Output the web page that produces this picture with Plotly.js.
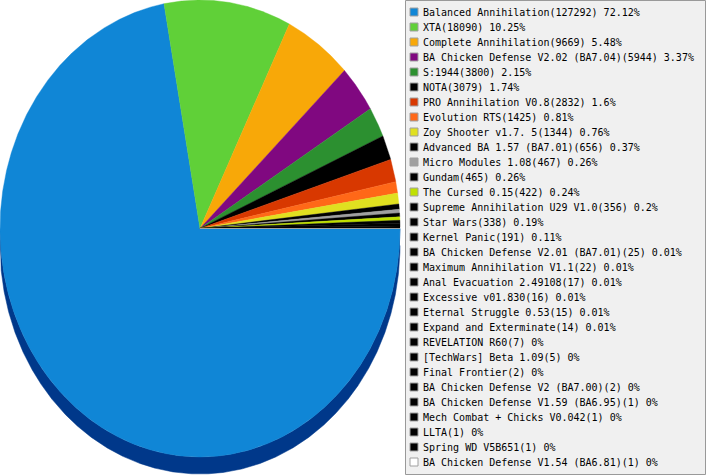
<!DOCTYPE html>
<html>
<head>
<meta charset="utf-8">
<script src="https://cdn.plot.ly/plotly-3.0.1.min.js"></script>
<style>html,body{margin:0;padding:0;background:#fff;}#chart{width:707px;height:475px;}</style>
</head>
<body>
<div id="chart"></div>
<script>
const categories = [
  "Balanced Annihilation", "XTA", "Complete Annihilation", "BA Chicken Defense V2.02 (BA7.04)",
  "S:1944", "NOTA", "PRO Annihilation V0.8", "Evolution RTS", "Zoy Shooter v1.7. 5",
  "Advanced BA 1.57 (BA7.01)", "Micro Modules 1.08", "Gundam", "The Cursed 0.15",
  "Supreme Annihilation U29 V1.0", "Star Wars", "Kernel Panic", "BA Chicken Defense V2.01 (BA7.01)",
  "Maximum Annihilation V1.1", "Anal Evacuation 2.49108", "Excessive v01.830", "Eternal Struggle 0.53",
  "Expand and Exterminate", "REVELATION R60", "[TechWars] Beta 1.09", "Final Frontier",
  "BA Chicken Defense V2 (BA7.00)", "BA Chicken Defense V1.59 (BA6.95)", "Mech Combat + Chicks V0.042",
  "LLTA", "Spring WD V5B651", "BA Chicken Defense V1.54 (BA6.81)"
];
const counts = [
  127292, 18090, 9669, 5944, 3800, 3079, 2832, 1425, 1344, 656, 467, 465, 422,
  356, 338, 191, 25, 22, 17, 16, 15, 14, 7, 5, 2, 2, 1, 1, 1, 1, 1
];
const pctLabels = [
  "72.12", "10.25", "5.48", "3.37", "2.15", "1.74", "1.6", "0.81", "0.76", "0.37", "0.26", "0.26", "0.24",
  "0.2", "0.19", "0.11", "0.01", "0.01", "0.01", "0.01", "0.01", "0.01", "0", "0", "0", "0", "0", "0", "0", "0", "0"
];
const colors = [
  "#1086d6", "#60d038", "#f8a808", "#800880", "#2c9030", "#000000", "#d83800", "#ff6818", "#e0e020",
  "#000000", "#a0a0a0", "#000000", "#c0e000",
  "#000000", "#000000", "#000000", "#000000", "#000000", "#000000", "#000000", "#000000", "#000000",
  "#000000", "#000000", "#000000", "#000000", "#000000", "#000000", "#000000", "#000000", "#ffffff"
];
const sideColors = {0: "#00388a"};

// geometry (pixels)
const W = 707, H = 475;
const cx = 200, cy = 228.5, rx = 200, ry = 228.5, depth = 17;

const total = counts.reduce((a, b) => a + b, 0);
const traces = [];

function arc(a0, a1, dy) {
  const xs = [], ys = [];
  const n = Math.max(2, Math.ceil((a1 - a0) / (Math.PI / 720)));
  for (let k = 0; k <= n; k++) {
    const t = a0 + (a1 - a0) * k / n;
    xs.push(cx + rx * Math.cos(t));
    ys.push(cy + dy + ry * Math.sin(t));
  }
  return [xs, ys];
}

// angles (clockwise from 3 o'clock, screen y down)
const starts = [], ends = [];
let cum = 0;
counts.forEach((v) => {
  starts.push(2 * Math.PI * cum / total);
  cum += v;
  ends.push(2 * Math.PI * cum / total);
});

// side walls for the front half
counts.forEach((v, i) => {
  const s = Math.max(starts[i], 0), e = Math.min(ends[i], Math.PI);
  if (e <= s || !(i in sideColors)) return;
  const [x1, y1] = arc(s, e, 0);
  const [x2, y2] = arc(s, e, depth);
  traces.push({
    type: "scatter", mode: "lines", fill: "toself",
    x: x1.concat(x2.slice().reverse()), y: y1.concat(y2.slice().reverse()),
    fillcolor: sideColors[i], line: {width: 0.5, color: sideColors[i]},
    hoverinfo: "skip", showlegend: false
  });
});

// top faces
counts.forEach((v, i) => {
  if (v <= 0) return;
  const [xs, ys] = arc(starts[i], ends[i], 0);
  traces.push({
    type: "scatter", mode: "lines", fill: "toself",
    x: [cx].concat(xs, [cx]), y: [cy].concat(ys, [cy]),
    fillcolor: colors[i], line: {width: 0.4, color: colors[i]},
    name: categories[i], hoverinfo: "skip", showlegend: false
  });
});

// legend swatches
const rowY = categories.map((c, i) => 12 + i * 15);
traces.push({
  type: "scatter", mode: "markers",
  x: categories.map(() => 414), y: rowY,
  marker: {symbol: "square", size: 8, color: colors, line: {width: 1, color: "#a0a0a0"}},
  hoverinfo: "skip", showlegend: false
});

const annotations = categories.map((c, i) => ({
  xref: "x", yref: "y", x: 420.5, y: rowY[i], xanchor: "left", yanchor: "middle",
  showarrow: false, text: c + "(" + counts[i] + ") " + pctLabels[i] + "%",
  font: {family: "DejaVu Sans Mono", size: 10, color: "#000"}
}));

const layout = {
  width: W, height: H,
  margin: {l: 0, r: 0, t: 0, b: 0},
  paper_bgcolor: "#ffffff", plot_bgcolor: "#ffffff",
  showlegend: false,
  xaxis: {range: [0, W], visible: false, fixedrange: true},
  yaxis: {range: [H, 0], visible: false, fixedrange: true},
  shapes: [{
    type: "rect", xref: "x", yref: "y", x0: 405.5, x1: 705.5, y0: 0.5, y1: 474.5,
    fillcolor: "#f0f0f0", line: {color: "#999999", width: 1}, layer: "below"
  }],
  annotations: annotations
};

Plotly.newPlot("chart", traces, layout, {displayModeBar: false, staticPlot: true});
</script>
</body>
</html>
